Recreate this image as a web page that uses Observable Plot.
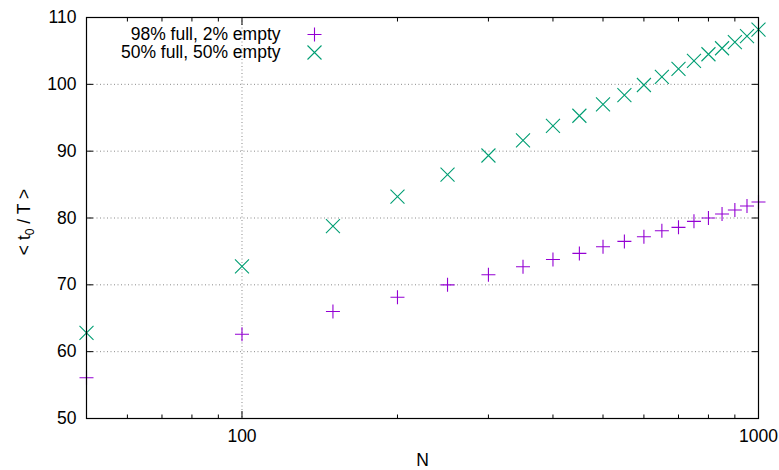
<!DOCTYPE html>
<html><head><meta charset="utf-8">
<script src="https://cdn.jsdelivr.net/npm/d3@7"></script>
<script src="https://cdn.jsdelivr.net/npm/@observablehq/plot@0.6"></script>
<style>body{margin:0;background:#fff}</style>
</head><body><div id="chart"></div>
<script>
const N = [50,100,150,200,250,300,350,400,450,500,550,600,650,700,750,800,850,900,950,1000];
const full98 = [56.1,62.6,66.0,68.15,70.0,71.5,72.7,73.8,74.7,75.7,76.5,77.2,78.1,78.6,79.5,80.0,80.6,81.2,81.8,82.4];
const full50 = [62.8,72.75,78.8,83.2,86.5,89.35,91.6,93.8,95.3,97.0,98.4,99.9,101.1,102.3,103.5,104.5,105.4,106.3,107.2,108.2];
const seriesNames = ["98% full, 2% empty", "50% full, 50% empty"];
const seriesColors = ["#9400d3", "#009e73"];
const yTicks = [50,60,70,80,90,100,110];
const yGrid = [60,70,80,90,100];
const xMajorTicks = [100,1000];
const xMinorTicks = [60,70,80,90,200,300,400,500,600,700,800,900];
const xGrid = [100];
const xLabel = "N";
const yLabel = "< t0 / T >";

const plusSym = {draw(ctx, size){const r=Math.sqrt(size/Math.PI); ctx.moveTo(-r,0);ctx.lineTo(r,0);ctx.moveTo(0,-r);ctx.lineTo(0,r);}};
const timesSym = {draw(ctx, size){const r=Math.sqrt(size/Math.PI); ctx.moveTo(-r,-r);ctx.lineTo(r,r);ctx.moveTo(-r,r);ctx.lineTo(r,-r);}};
const symbols = [plusSym, timesSym];

const rows = [];
[full98, full50].forEach((vals, s) => vals.forEach((v, i) => rows.push({N: N[i], v, s})));

const empty = () => "";
const marks = [
  Plot.gridY(yGrid, {stroke:"#8a8a8a", strokeOpacity:1, strokeDasharray:"1,2.5", strokeWidth:1}),
  Plot.gridX(xGrid, {stroke:"#8a8a8a", strokeOpacity:1, strokeDasharray:"1,2.5", strokeWidth:1}),
  Plot.axisX(xMajorTicks, {anchor:"bottom", tickSize:-7, tickFormat:empty, label:null}),
  Plot.axisX(xMajorTicks, {anchor:"top", tickSize:-7, tickFormat:empty, label:null}),
  Plot.axisX(xMinorTicks, {anchor:"bottom", tickSize:-3.5, tickFormat:empty, label:null}),
  Plot.axisX(xMinorTicks, {anchor:"top", tickSize:-3.5, tickFormat:empty, label:null}),
  Plot.axisY(yTicks, {anchor:"left", tickSize:-7, tickFormat:empty, label:null}),
  Plot.axisY(yTicks, {anchor:"right", tickSize:-7, tickFormat:empty, label:null}),
  Plot.axisX(xMajorTicks, {anchor:"bottom", tickSize:0, tickPadding:11, tickFormat:d=>String(d), label:null}),
  Plot.axisY(yTicks, {anchor:"left", tickSize:0, tickPadding:10, tickFormat:d=>String(d), label:null}),
  Plot.text([xLabel], {frameAnchor:"bottom", dy:42, lineAnchor:"middle"}),
  Plot.text([yLabel], {frameAnchor:"left", rotate:-90, dx:-62, lineAnchor:"middle", className:"ylab"}),
  ...[0,1].map(s => Plot.dot(rows.filter(d => d.s === s), {x:"N", y:"v", r:7, symbol:()=>symbols[s], fill:"none", stroke:seriesColors[s], strokeWidth:1.1})),
  ...[0,1].map(s => Plot.text([seriesNames[s]], {frameAnchor:"top-left", dx:194, dy:17 + 18*s, textAnchor:"end", lineAnchor:"middle"})),
  ...[0,1].map(s => Plot.dot([s], {frameAnchor:"top-left", dx:228, dy:17 + 18*s, r:7, symbol:()=>symbols[s], fill:"none", stroke:seriesColors[s], strokeWidth:1.1})),
  Plot.frame({stroke:"black", strokeWidth:1.2})
];

const chart = Plot.plot({
  width: 779, height: 470,
  marginLeft: 86, marginRight: 21, marginTop: 17, marginBottom: 52,
  style: {fontFamily: "'Liberation Sans', Arial, sans-serif", fontSize: "17.5px", background: "#fff", color: "black"},
  x: {type:"log", domain:[50,1000]},
  y: {domain:[50,110]},
  marks
});
document.getElementById("chart").appendChild(chart);

// subscript in y label, centred manually
d3.select(chart).selectAll("text").each(function(){
  const t = d3.select(this);
  if (t.text() === yLabel) {
    t.text(null);
    t.attr("text-anchor", "start");
    t.append("tspan").text("< t");
    t.append("tspan").attr("font-size","12px").attr("dy","4").text("0");
    t.append("tspan").attr("dy","-4").text(" / T >");
    const w = this.getComputedTextLength();
    t.attr("x", -w/2 - 4);
  }
});
</script>
</body></html>
